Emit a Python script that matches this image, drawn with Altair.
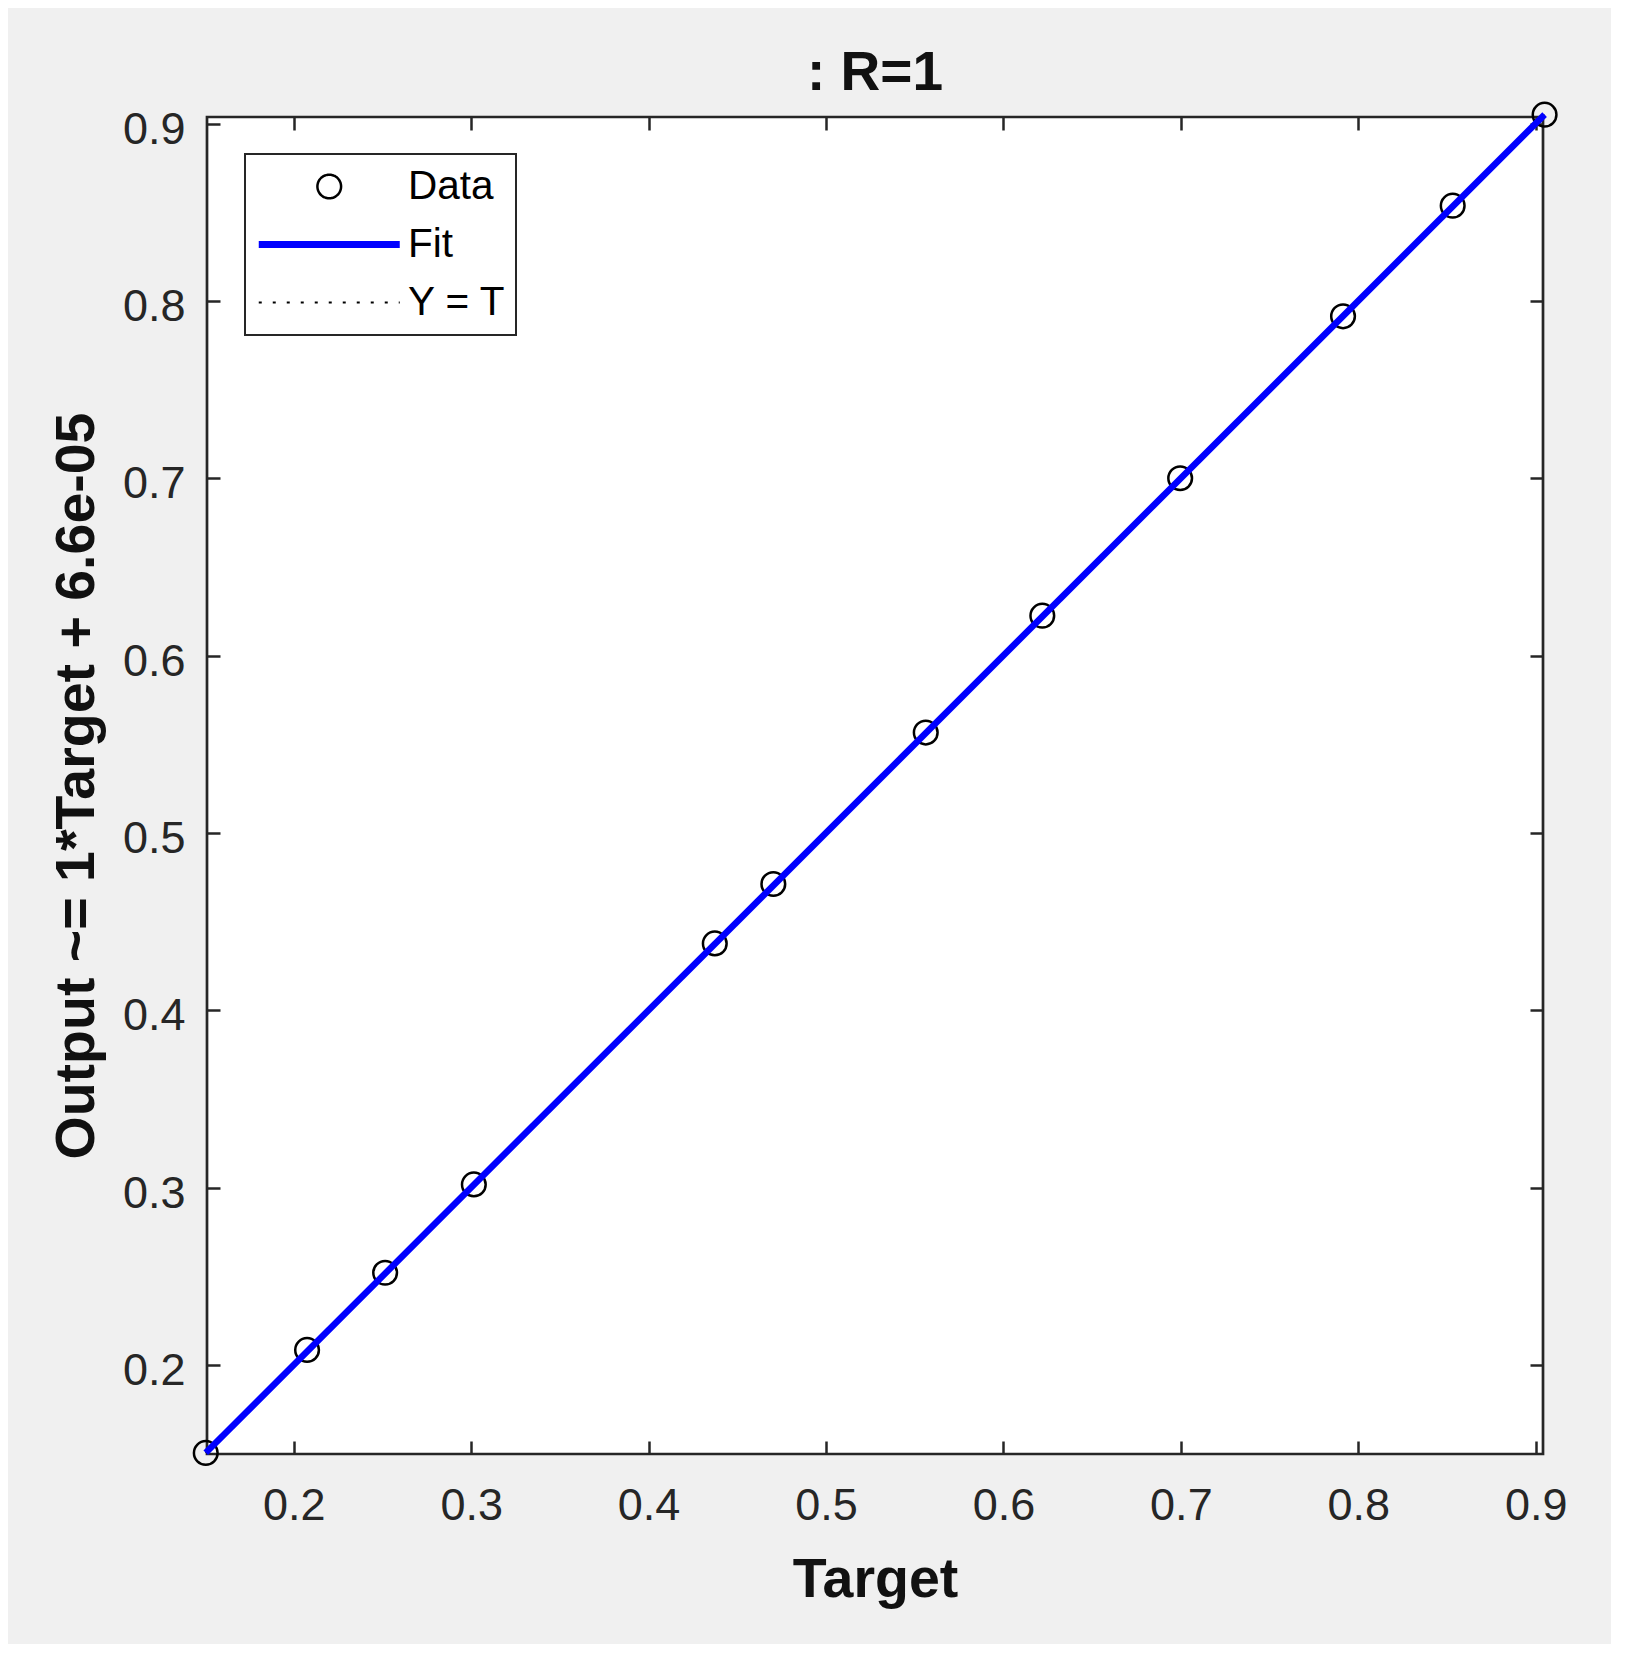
import altair as alt
import pandas as pd

# ---- data ----
targets = [0.1504, 0.2075, 0.2515, 0.3015, 0.4373, 0.4703, 0.5562, 0.6219, 0.6996, 0.7914, 0.8532, 0.9050]
outputs = [0.1504, 0.2085, 0.2520, 0.3018, 0.4377, 0.4712, 0.5566, 0.6225, 0.7000, 0.7913, 0.8537, 0.9050]
fit_slope = 1.0
fit_intercept = 6.6e-05
limits = [0.1504, 0.9050]
x_domain = [0.1511, 0.9041]
y_domain = [0.1498, 0.9037]
tick_values = [0.2, 0.3, 0.4, 0.5, 0.6, 0.7, 0.8, 0.9]
series = ["Data", "Fit", "Y = T"]
series_colors = ["#000000", "#0000ff", "#000000"]
title_text = ": R=1"
x_title = "Target"
y_title = "Output ~= 1*Target + 6.6e-05"

FONT = "Liberation Sans"
AX = "#262626"

points_df = pd.DataFrame({"t": targets, "y": outputs, "series": series[0]})
fit_df = pd.DataFrame({"t": limits, "y": [fit_slope * v + fit_intercept for v in limits], "series": series[1]})
diag_df = pd.DataFrame({"t": limits, "y": limits, "series": series[2]})

xs = alt.Scale(domain=x_domain, nice=False, zero=False)
ys = alt.Scale(domain=y_domain, nice=False, zero=False)
cscale = alt.Scale(domain=series, range=series_colors)

legend = alt.Legend(
    title=None, orient="none", legendX=38, legendY=37, direction="vertical", columns=1,
    padding=9.5, clipHeight=46, rowPadding=12,
    symbolOffset=54.5,
    labelFont=FONT, labelFontSize=40.5, labelColor="#000000", labelOffset=58.5, labelLimit=400,
    labelExpr="datum.label + '\u00a0\u00a0\u00a0\u00a0\u00a0\u00a0'",
    symbolType={"expr": "datum.value == 'Data' ? 'circle' : 'stroke'"},
    symbolSize={"expr": "datum.value == 'Data' ? 560 : 19881"},
    symbolStrokeWidth={"expr": "datum.value == 'Data' ? 2.5 : (datum.value == 'Fit' ? 7 : 2)"},
    symbolDash={"expr": "datum.value == 'Y = T' ? [3, 11] : [1, 0]"},
    symbolFillColor="transparent", symbolOpacity=1,
    strokeColor=AX, fillColor="#ffffff",
)

label_x = alt.Axis(orient="bottom", values=tick_values, format=".1f", labelFont=FONT, labelFontSize=45,
                   labelColor=AX, labelPadding=29, labelFlush=False, ticks=True, tickSize=0, domain=False,
                   grid=False, title=x_title, titleFont=FONT, titleFontSize=55.5, titleFontWeight="bold",
                   titleColor="#111111", titlePadding=24)
label_y = alt.Axis(orient="left", values=tick_values, format=".1f", labelFont=FONT, labelFontSize=45,
                   labelColor=AX, labelPadding=22, labelOffset=5.5, labelFlush=False, ticks=True, tickSize=0,
                   domain=False, grid=False, title=y_title, titleFont=FONT, titleFontSize=55.5,
                   titleFontWeight="bold", titleColor="#111111", titlePadding=17)


def tick_axis(orient):
    return alt.Axis(orient=orient, values=tick_values, labels=False, domain=False, grid=False, ticks=True,
                    tickSize=13, tickWidth=2.5, tickColor=AX, offset=-13, title=None)


points = alt.Chart(points_df).mark_point(filled=False, shape="circle").encode(
    x=alt.X("t:Q", scale=xs, axis=label_x),
    y=alt.Y("y:Q", scale=ys, axis=label_y),
    color=alt.Color("series:N", scale=cscale, legend=legend),
    size=alt.value(560),
    strokeWidth=alt.value(2.5),
    opacity=alt.value(1),
)

diag = alt.Chart(diag_df).mark_line().encode(
    x=alt.X("t:Q", scale=xs, axis=tick_axis("bottom")),
    y=alt.Y("y:Q", scale=ys, axis=tick_axis("left")),
    color=alt.Color("series:N", scale=cscale, legend=None),
    strokeWidth=alt.value(2),
    strokeDash=alt.value([3, 11]),
)

fit = alt.Chart(fit_df).mark_line().encode(
    x=alt.X("t:Q", scale=xs, axis=tick_axis("top")),
    y=alt.Y("y:Q", scale=ys, axis=tick_axis("right")),
    color=alt.Color("series:N", scale=cscale, legend=None),
    strokeWidth=alt.value(6.5),
)

chart = alt.layer(points, diag, fit).resolve_axis(x="independent", y="independent").properties(
    width=1336, height=1337,
    title=alt.Title(title_text, font=FONT, fontSize=55, fontWeight="bold", color="#111111",
                    anchor="middle", frame="group", baseline="alphabetic", offset=-47),
    autosize=alt.AutoSizeParams(type="none"),
    padding={"left": 199, "top": 109, "right": 68, "bottom": 190},
    background="#f0f0f0",
).configure_view(stroke=AX, strokeWidth=2.7, fill="#ffffff").configure_legend(strokeWidth=2)

chart.save("out.html", embed_options={"renderer": "svg", "actions": False})
